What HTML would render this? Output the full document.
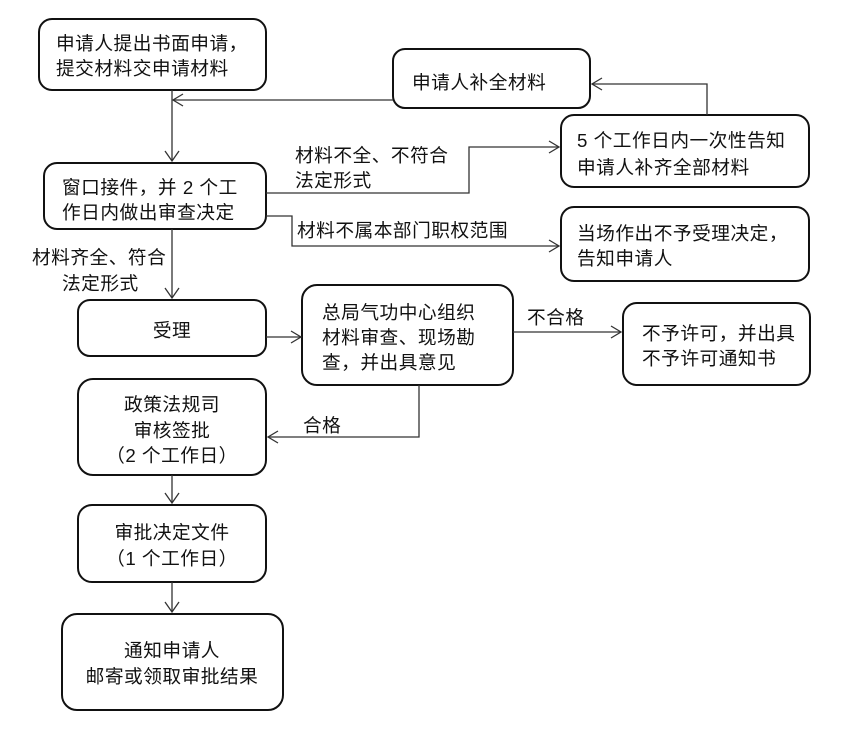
<!DOCTYPE html>
<html><head><meta charset="utf-8"><style>
html,body{margin:0;padding:0;background:#fff;}
svg{display:block;}
text{font-family:"Liberation Sans","Noto Sans CJK SC",sans-serif;font-size:18.7px;fill:#111;letter-spacing:0.5px;}
</style></head><body>
<svg width="848" height="730" viewBox="0 0 848 730" xmlns="http://www.w3.org/2000/svg">
<g fill="#fff" stroke="#111" stroke-width="2">
<rect x="39" y="19" width="227" height="71" rx="13"/>
<rect x="393" y="49" width="197" height="59" rx="12"/>
<rect x="561" y="115" width="248" height="72" rx="13"/>
<rect x="561" y="207" width="248" height="74" rx="13"/>
<rect x="44" y="163" width="222" height="66" rx="13"/>
<rect x="78" y="300" width="188" height="56" rx="12"/>
<rect x="302" y="285" width="211" height="100" rx="15"/>
<rect x="623" y="303" width="187" height="82" rx="14"/>
<rect x="78" y="379" width="188" height="96" rx="15"/>
<rect x="78" y="505" width="188" height="77" rx="14"/>
<rect x="62" y="614" width="221" height="96" rx="15"/>
</g>
<g fill="none" stroke="#333" stroke-width="1.3">
<polyline points="172,90 172,161"/>
<polyline points="165,151 172,161 179,151"/>
<polyline points="393,100 173,100"/>
<polyline points="183,94 173,100 183,106"/>
<polyline points="707,115 707,84 592,84"/>
<polyline points="602,78 592,84 602,90"/>
<polyline points="266,193 469,193 469,147 559,147"/>
<polyline points="549,141 559,147 549,153"/>
<polyline points="266,216 292,216 292,246 559,246"/>
<polyline points="549,240 559,246 549,252"/>
<polyline points="172,229 172,298"/>
<polyline points="165,288 172,298 179,288"/>
<polyline points="266,337 301,337"/>
<polyline points="291,331 301,337 291,343"/>
<polyline points="513,332 621,332"/>
<polyline points="611,326 621,332 611,338"/>
<polyline points="419,385 419,437 268,437"/>
<polyline points="278,431 268,437 278,443"/>
<polyline points="172,475 172,503"/>
<polyline points="165,493 172,503 179,493"/>
<polyline points="172,582 172,612"/>
<polyline points="165,602 172,612 179,602"/>
</g>
<text x="56" y="50">申请人提出书面申请，</text>
<text x="56" y="75">提交材料交申请材料</text>
<text x="412" y="89">申请人补全材料</text>
<text x="577" y="147">5 个工作日内一次性告知</text>
<text x="577" y="174">申请人补齐全部材料</text>
<text x="577" y="240">当场作出不予受理决定，</text>
<text x="577" y="265">告知申请人</text>
<text x="62" y="194">窗口接件，并 2 个工</text>
<text x="62" y="219">作日内做出审查决定</text>
<text x="295" y="162">材料不全、不符合</text>
<text x="295" y="187">法定形式</text>
<text x="297" y="237">材料不属本部门职权范围</text>
<text x="32" y="264">材料齐全、符合</text>
<text x="62" y="290">法定形式</text>
<text x="172" y="337" text-anchor="middle">受理</text>
<text x="322" y="319">总局气功中心组织</text>
<text x="322" y="344">材料审查、现场勘</text>
<text x="322" y="369">查，并出具意见</text>
<text x="527" y="324">不合格</text>
<text x="642" y="340">不予许可，并出具</text>
<text x="642" y="365">不予许可通知书</text>
<text x="303" y="432">合格</text>
<text x="172" y="411" text-anchor="middle">政策法规司</text>
<text x="172" y="437" text-anchor="middle">审核签批</text>
<text x="172" y="462" text-anchor="middle">（2 个工作日）</text>
<text x="172" y="539" text-anchor="middle">审批决定文件</text>
<text x="172" y="565" text-anchor="middle">（1 个工作日）</text>
<text x="172" y="657" text-anchor="middle">通知申请人</text>
<text x="172" y="683" text-anchor="middle">邮寄或领取审批结果</text>
</svg>
</body></html>
